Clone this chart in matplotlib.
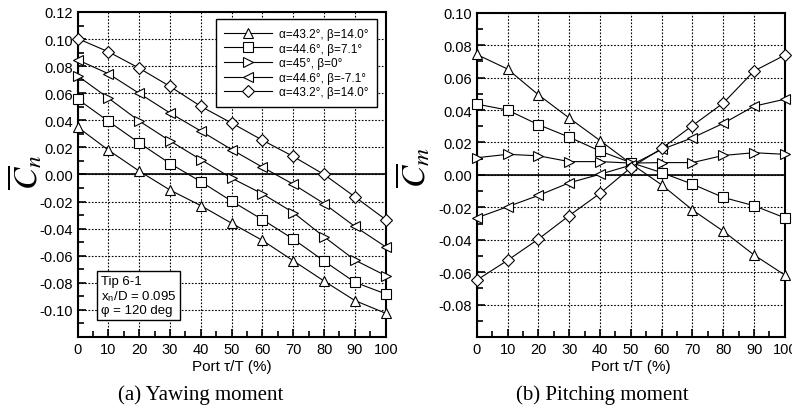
import matplotlib
matplotlib.use('Agg')
import matplotlib.pyplot as plt
from matplotlib.ticker import MultipleLocator

plt.rcParams['font.family'] = ['Liberation Sans', 'DejaVu Sans']
plt.rcParams['mathtext.fontset'] = 'stix'

# Port position (%)
port = [0, 10, 20, 30, 40, 50, 60, 70, 80, 90, 100]

labels = ['α=43.2°, β=14.0°', 'α=44.6°, β=7.1°', 'α=45°, β=0°',
          'α=44.6°, β=-7.1°', 'α=43.2°, β=14.0°']
markers = ['^', 's', '>', '<', 'D']

# Yawing moment coefficient
cn_1 = [0.035, 0.018, 0.0025, -0.0115, -0.023, -0.036, -0.0487, -0.0637, -0.0787, -0.0931, -0.1025]
cn_2 = [0.0557, 0.0393, 0.0233, 0.0081, -0.0053, -0.0197, -0.0333, -0.0477, -0.0639, -0.0796, -0.0882]
cn_3 = [0.0729, 0.0564, 0.0395, 0.0248, 0.011, -0.0027, -0.0143, -0.0281, -0.046, -0.0632, -0.0747]
cn_4 = [0.0847, 0.0744, 0.0599, 0.0454, 0.0321, 0.0184, 0.0054, -0.0072, -0.0215, -0.0384, -0.0534]
cn_5 = [0.1004, 0.0906, 0.0785, 0.065, 0.0503, 0.038, 0.0253, 0.0133, 0.0, -0.0165, -0.0333]

# Pitching moment coefficient
cm_1 = [0.0743, 0.0653, 0.0494, 0.0351, 0.0212, 0.007, -0.0061, -0.0216, -0.0347, -0.0494, -0.0618]
cm_2 = [0.0437, 0.040, 0.031, 0.0233, 0.0147, 0.0076, 0.0014, -0.0057, -0.0139, -0.019, -0.0265]
cm_3 = [0.0106, 0.0127, 0.0118, 0.0082, 0.0082, 0.0073, 0.0076, 0.0076, 0.012, 0.0137, 0.0127]
cm_4 = [-0.0265, -0.0196, -0.0127, -0.0049, 0.0004, 0.006, 0.0157, 0.0229, 0.0318, 0.0424, 0.0467]
cm_5 = [-0.0649, -0.0527, -0.0396, -0.0251, -0.0114, 0.0045, 0.0163, 0.0304, 0.0443, 0.0641, 0.0739]

fig = plt.figure(figsize=(7.92, 4.14), dpi=100)
ax1 = fig.add_axes([0.098, 0.1836, 0.389, 0.785])
ax2 = fig.add_axes([0.602, 0.1836, 0.389, 0.783])


def style_axis(ax):
    ax.set_xlim(0, 100)
    ax.xaxis.set_major_locator(MultipleLocator(10))
    ax.xaxis.set_minor_locator(MultipleLocator(5))
    ax.yaxis.set_major_locator(MultipleLocator(0.02))
    ax.yaxis.set_minor_locator(MultipleLocator(0.01))
    ax.tick_params(which='both', direction='in', top=False, right=False,
                   labelsize=10.5, width=1.2, colors='black')
    ax.tick_params(which='major', length=6)
    ax.tick_params(which='minor', length=4)
    ax.grid(True, which='major', color='black', linestyle=(0, (1.5, 1.5)), linewidth=0.8)
    ax.axhline(0, color='black', linewidth=1.2, zorder=2)
    for s in ax.spines.values():
        s.set_linewidth(1.5)
    ax.set_xlabel('Port τ/T (%)', fontsize=11, labelpad=2)


style_axis(ax1)
style_axis(ax2)

ax1.set_yticks([-0.10, -0.08, -0.06, -0.04, -0.02, 0.0, 0.02, 0.04, 0.06, 0.08, 0.10, 0.12])
ax1.set_yticklabels(['%.2f' % v for v in ax1.get_yticks()])
ax2.set_yticks([-0.08, -0.06, -0.04, -0.02, 0.0, 0.02, 0.04, 0.06, 0.08, 0.10])
ax2.set_yticklabels(['%.2f' % v for v in ax2.get_yticks()])
ax1.set_ylim(-0.12, 0.12)
ax2.set_ylim(-0.10, 0.10)

for cn, mk, lab in zip([cn_1, cn_2, cn_3, cn_4, cn_5], markers, labels):
    ms = 6.5 if mk == 'D' else 7.5
    ax1.plot(port, cn, color='black', linewidth=0.8, marker=mk, markersize=ms,
             markerfacecolor='white', markeredgecolor='black', markeredgewidth=0.8,
             label=lab, zorder=3, clip_on=False)

for cm, mk in zip([cm_1, cm_2, cm_3, cm_4, cm_5], markers):
    ms = 6.5 if mk == 'D' else 7.5
    ax2.plot(port, cm, color='black', linewidth=0.8, marker=mk, markersize=ms,
             markerfacecolor='white', markeredgecolor='black', markeredgewidth=0.8,
             zorder=3, clip_on=False)

leg = ax1.legend(loc='upper right', bbox_to_anchor=(0.972, 0.978), borderaxespad=0,
                 fontsize=8.5, frameon=True, fancybox=False, edgecolor='black',
                 framealpha=1, handlelength=4.0, labelspacing=0.22, borderpad=0.75,
                 handletextpad=0.6)
leg.get_frame().set_linewidth(1.0)

ax1.text(0.075, 0.065, 'Tip 6-1\nx$_\\mathregular{n}$/D = 0.095\nφ = 120 deg',
         transform=ax1.transAxes, fontsize=9.5, va='bottom', ha='left', linespacing=1.1,
         bbox=dict(boxstyle='square,pad=0.3', facecolor='white', edgecolor='black', linewidth=1.0),
         zorder=5)

fig.text(0.032, 0.585, r'$\overline{C}_n$', fontsize=24, rotation=90, ha='center', va='center')
fig.text(0.522, 0.595, r'$\overline{C}_m$', fontsize=24, rotation=90, ha='center', va='center')

fig.text(0.253, 0.045, '(a) Yawing moment', fontsize=15, ha='center', va='center',
         family='Liberation Serif')
fig.text(0.76, 0.045, '(b) Pitching moment', fontsize=15, ha='center', va='center',
         family='Liberation Serif')

fig.savefig('out.png', dpi=100)
